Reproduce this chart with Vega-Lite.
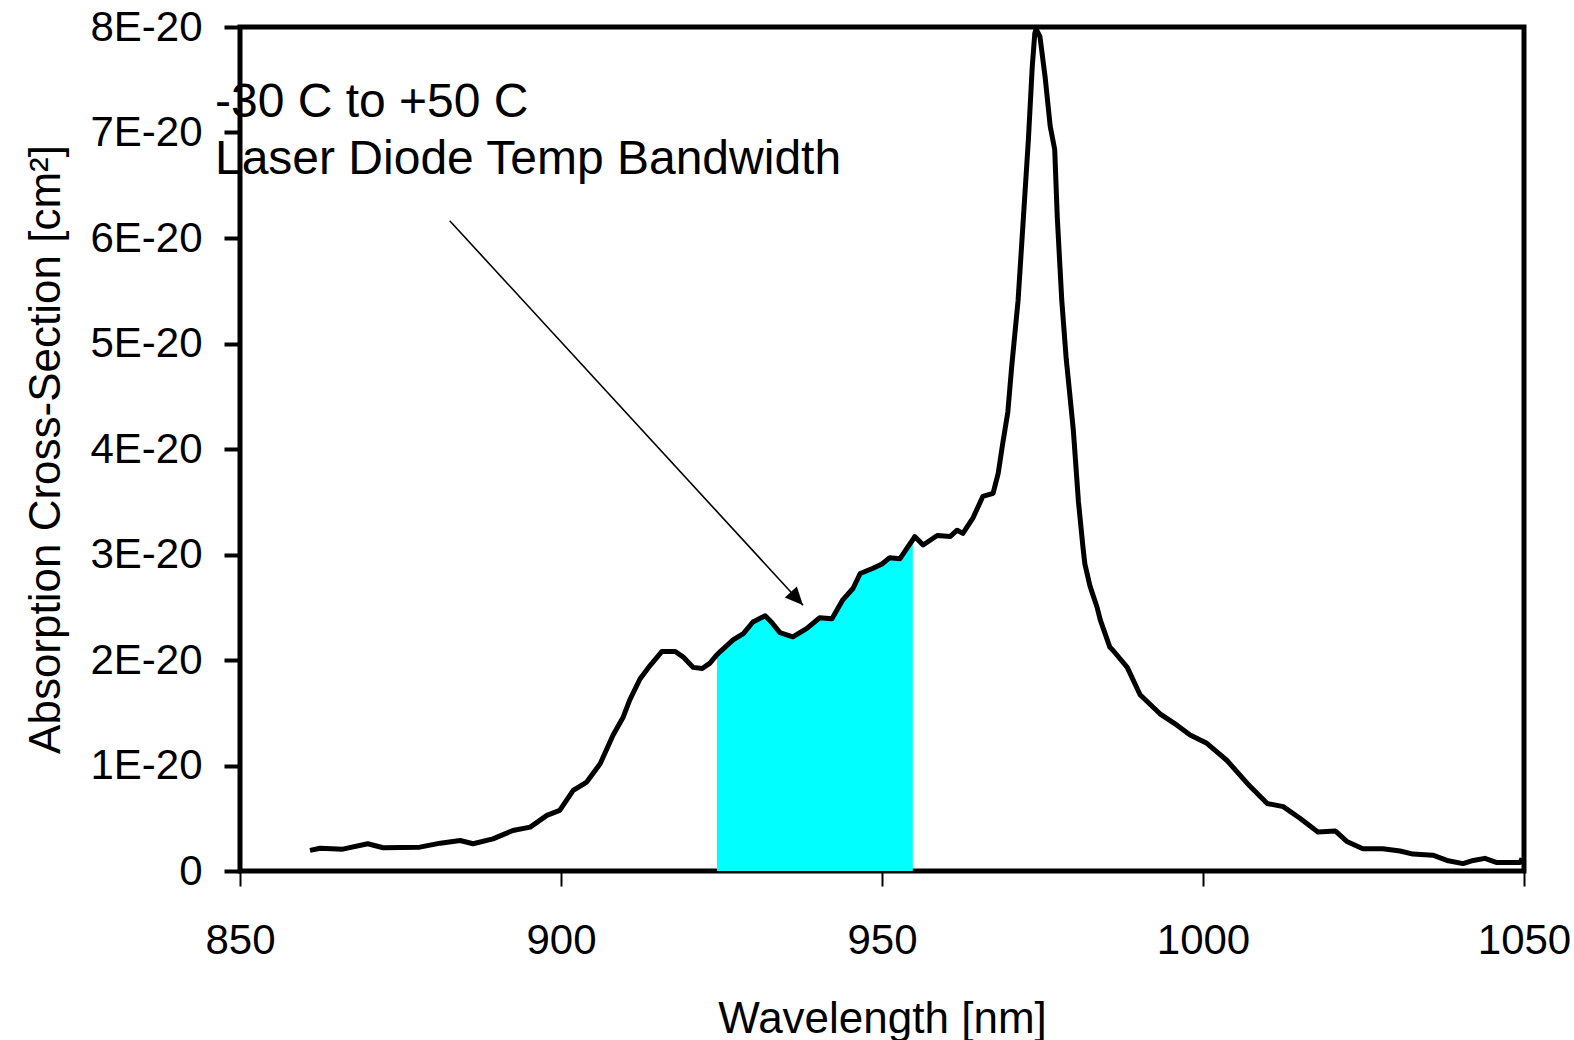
{
  "$schema": "https://vega.github.io/schema/vega-lite/v6.json",
  "autosize": {"type": "none"},
  "width": 1284,
  "height": 844,
  "padding": {"left": 240, "top": 27, "right": 50, "bottom": 169},
  "background": "white",
  "config": {
    "view": {"stroke": "black", "strokeWidth": 5},
    "font": "Liberation Sans",
    "axis": {
      "grid": false,
      "domain": false,
      "tickColor": "black",
      "labelColor": "black",
      "titleColor": "black",
      "labelFont": "Liberation Sans",
      "titleFont": "Liberation Sans",
      "labelFontSize": 42,
      "titleFontSize": 44,
      "titleFontWeight": "normal",
      "labelOverlap": false,
      "labelFlush": false,
      "labelBound": false
    }
  },
  "datasets": {
    "spectrum": [
      {"wl": 860.9, "sigma": 1.95e-21},
      {"wl": 862.5, "sigma": 2.16e-21},
      {"wl": 866.0, "sigma": 2.07e-21},
      {"wl": 869.9, "sigma": 2.58e-21},
      {"wl": 872.3, "sigma": 2.2e-21},
      {"wl": 878.0, "sigma": 2.26e-21},
      {"wl": 881.2, "sigma": 2.64e-21},
      {"wl": 884.3, "sigma": 2.89e-21},
      {"wl": 886.3, "sigma": 2.58e-21},
      {"wl": 889.4, "sigma": 3.05e-21},
      {"wl": 892.5, "sigma": 3.84e-21},
      {"wl": 895.2, "sigma": 4.16e-21},
      {"wl": 897.8, "sigma": 5.27e-21},
      {"wl": 899.8, "sigma": 5.74e-21},
      {"wl": 901.9, "sigma": 7.64e-21},
      {"wl": 904.0, "sigma": 8.43e-21},
      {"wl": 906.1, "sigma": 1.017e-20},
      {"wl": 908.1, "sigma": 1.286e-20},
      {"wl": 909.7, "sigma": 1.46e-20},
      {"wl": 910.7, "sigma": 1.62e-20},
      {"wl": 912.3, "sigma": 1.82e-20},
      {"wl": 913.9, "sigma": 1.95e-20},
      {"wl": 915.7, "sigma": 2.08e-20},
      {"wl": 917.8, "sigma": 2.08e-20},
      {"wl": 919.0, "sigma": 2.03e-20},
      {"wl": 920.6, "sigma": 1.93e-20},
      {"wl": 922.0, "sigma": 1.92e-20},
      {"wl": 923.2, "sigma": 1.97e-20},
      {"wl": 924.3, "sigma": 2.05e-20},
      {"wl": 924.8, "sigma": 2.08e-20},
      {"wl": 926.8, "sigma": 2.19e-20},
      {"wl": 928.4, "sigma": 2.25e-20},
      {"wl": 929.9, "sigma": 2.36e-20},
      {"wl": 931.8, "sigma": 2.42e-20},
      {"wl": 932.9, "sigma": 2.35e-20},
      {"wl": 934.1, "sigma": 2.26e-20},
      {"wl": 936.1, "sigma": 2.22e-20},
      {"wl": 938.3, "sigma": 2.3e-20},
      {"wl": 940.3, "sigma": 2.4e-20},
      {"wl": 942.2, "sigma": 2.39e-20},
      {"wl": 943.9, "sigma": 2.57e-20},
      {"wl": 945.5, "sigma": 2.68e-20},
      {"wl": 946.6, "sigma": 2.82e-20},
      {"wl": 948.6, "sigma": 2.87e-20},
      {"wl": 950.0, "sigma": 2.91e-20},
      {"wl": 951.2, "sigma": 2.97e-20},
      {"wl": 952.8, "sigma": 2.96e-20},
      {"wl": 954.0, "sigma": 3.07e-20},
      {"wl": 954.8, "sigma": 3.14e-20},
      {"wl": 955.1, "sigma": 3.17e-20},
      {"wl": 956.4, "sigma": 3.09e-20},
      {"wl": 958.6, "sigma": 3.18e-20},
      {"wl": 960.6, "sigma": 3.17e-20},
      {"wl": 961.7, "sigma": 3.23e-20},
      {"wl": 962.6, "sigma": 3.2e-20},
      {"wl": 964.2, "sigma": 3.35e-20},
      {"wl": 965.7, "sigma": 3.55e-20},
      {"wl": 967.3, "sigma": 3.58e-20},
      {"wl": 968.1, "sigma": 3.77e-20},
      {"wl": 968.8, "sigma": 4.05e-20},
      {"wl": 969.6, "sigma": 4.35e-20},
      {"wl": 970.2, "sigma": 4.78e-20},
      {"wl": 971.2, "sigma": 5.41e-20},
      {"wl": 972.0, "sigma": 6.17e-20},
      {"wl": 972.8, "sigma": 6.93e-20},
      {"wl": 973.4, "sigma": 7.62e-20},
      {"wl": 973.8, "sigma": 7.94e-20},
      {"wl": 974.0, "sigma": 7.98e-20},
      {"wl": 974.6, "sigma": 7.91e-20},
      {"wl": 975.4, "sigma": 7.53e-20},
      {"wl": 976.2, "sigma": 7.06e-20},
      {"wl": 976.9, "sigma": 6.84e-20},
      {"wl": 977.3, "sigma": 6.2e-20},
      {"wl": 978.0, "sigma": 5.41e-20},
      {"wl": 978.7, "sigma": 4.85e-20},
      {"wl": 979.2, "sigma": 4.55e-20},
      {"wl": 979.8, "sigma": 4.18e-20},
      {"wl": 980.6, "sigma": 3.5e-20},
      {"wl": 981.3, "sigma": 3.07e-20},
      {"wl": 981.6, "sigma": 2.91e-20},
      {"wl": 982.4, "sigma": 2.7e-20},
      {"wl": 983.5, "sigma": 2.5e-20},
      {"wl": 984.0, "sigma": 2.38e-20},
      {"wl": 985.5, "sigma": 2.12e-20},
      {"wl": 986.0, "sigma": 2.09e-20},
      {"wl": 988.2, "sigma": 1.93e-20},
      {"wl": 990.2, "sigma": 1.67e-20},
      {"wl": 993.3, "sigma": 1.49e-20},
      {"wl": 996.0, "sigma": 1.38e-20},
      {"wl": 998.0, "sigma": 1.29e-20},
      {"wl": 1000.6, "sigma": 1.21e-20},
      {"wl": 1003.7, "sigma": 1.05e-20},
      {"wl": 1006.9, "sigma": 8.3e-21},
      {"wl": 1010.0, "sigma": 6.4e-21},
      {"wl": 1012.5, "sigma": 6.1e-21},
      {"wl": 1015.1, "sigma": 5.0e-21},
      {"wl": 1017.9, "sigma": 3.7e-21},
      {"wl": 1020.6, "sigma": 3.8e-21},
      {"wl": 1022.4, "sigma": 2.8e-21},
      {"wl": 1024.9, "sigma": 2.1e-21},
      {"wl": 1028.0, "sigma": 2.1e-21},
      {"wl": 1030.7, "sigma": 1.9e-21},
      {"wl": 1032.7, "sigma": 1.6e-21},
      {"wl": 1035.8, "sigma": 1.5e-21},
      {"wl": 1038.0, "sigma": 1.0e-21},
      {"wl": 1040.5, "sigma": 7e-22},
      {"wl": 1042.1, "sigma": 1.0e-21},
      {"wl": 1043.9, "sigma": 1.2e-21},
      {"wl": 1045.8, "sigma": 8e-22},
      {"wl": 1049.4, "sigma": 8e-22},
      {"wl": 1049.7, "sigma": 1.2e-21}
    ],
    "arrow": [
      {"wl": 882.66, "sigma": 6.164e-20, "wl2": 937.7, "sigma2": 2.519e-20}
    ],
    "labels": [
      {"wl": 846.1, "sigma": 7.144e-20, "text": "-30 C to +50 C"},
      {"wl": 846.1, "sigma": 6.602e-20, "text": "Laser Diode Temp Bandwidth"}
    ]
  },
  "encoding": {
    "x": {
      "field": "wl",
      "type": "quantitative",
      "scale": {"domain": [850, 1050], "nice": false, "zero": false},
      "axis": {
        "title": "Wavelength [nm]",
        "values": [850, 900, 950, 1000, 1050],
        "format": "d",
        "tickSize": 15,
        "tickWidth": 2,
        "labelPadding": 34,
        "titleY": 161,
        "titleBaseline": "alphabetic"
      }
    },
    "y": {
      "field": "sigma",
      "type": "quantitative",
      "scale": {"domain": [0, 8e-20], "nice": false},
      "axis": {
        "title": "Absorption Cross-Section [cm²]",
        "values": [0, 1e-20, 2e-20, 3e-20, 4e-20, 5e-20, 6e-20, 7e-20, 8e-20],
        "labelExpr": "datum.value == 0 ? '0' : upper(format(datum.value, '.0e'))",
        "tickSize": 16,
        "tickWidth": 4,
        "labelPadding": 22,
        "titleX": -181,
        "titleY": 422,
        "titleAngle": -90,
        "titleAlign": "center",
        "titleBaseline": "alphabetic"
      }
    }
  },
  "layer": [
    {
      "data": {"name": "spectrum"},
      "transform": [{"filter": "datum.wl >= 924.3 && datum.wl <= 954.8"}],
      "mark": {"type": "area", "color": "#00FFFF", "opacity": 1}
    },
    {
      "data": {"name": "spectrum"},
      "mark": {"type": "line", "color": "black", "strokeWidth": 5, "strokeJoin": "round"}
    },
    {
      "data": {"name": "arrow"},
      "mark": {"type": "rule", "color": "black", "strokeWidth": 1.6},
      "encoding": {
        "x2": {"field": "wl2"},
        "y2": {"field": "sigma2"}
      }
    },
    {
      "data": {"name": "arrow"},
      "mark": {
        "type": "point",
        "shape": "M0,0 L-0.45,-1 L0.45,-1 Z",
        "filled": true,
        "color": "black",
        "opacity": 1,
        "size": 1300,
        "angle": -42.6
      },
      "encoding": {
        "x": {"field": "wl2", "type": "quantitative"},
        "y": {"field": "sigma2", "type": "quantitative"}
      }
    },
    {
      "data": {"name": "labels"},
      "mark": {"type": "text", "align": "left", "baseline": "alphabetic", "fontSize": 48, "font": "Liberation Sans", "color": "black"},
      "encoding": {
        "text": {"field": "text"}
      }
    }
  ]
}
